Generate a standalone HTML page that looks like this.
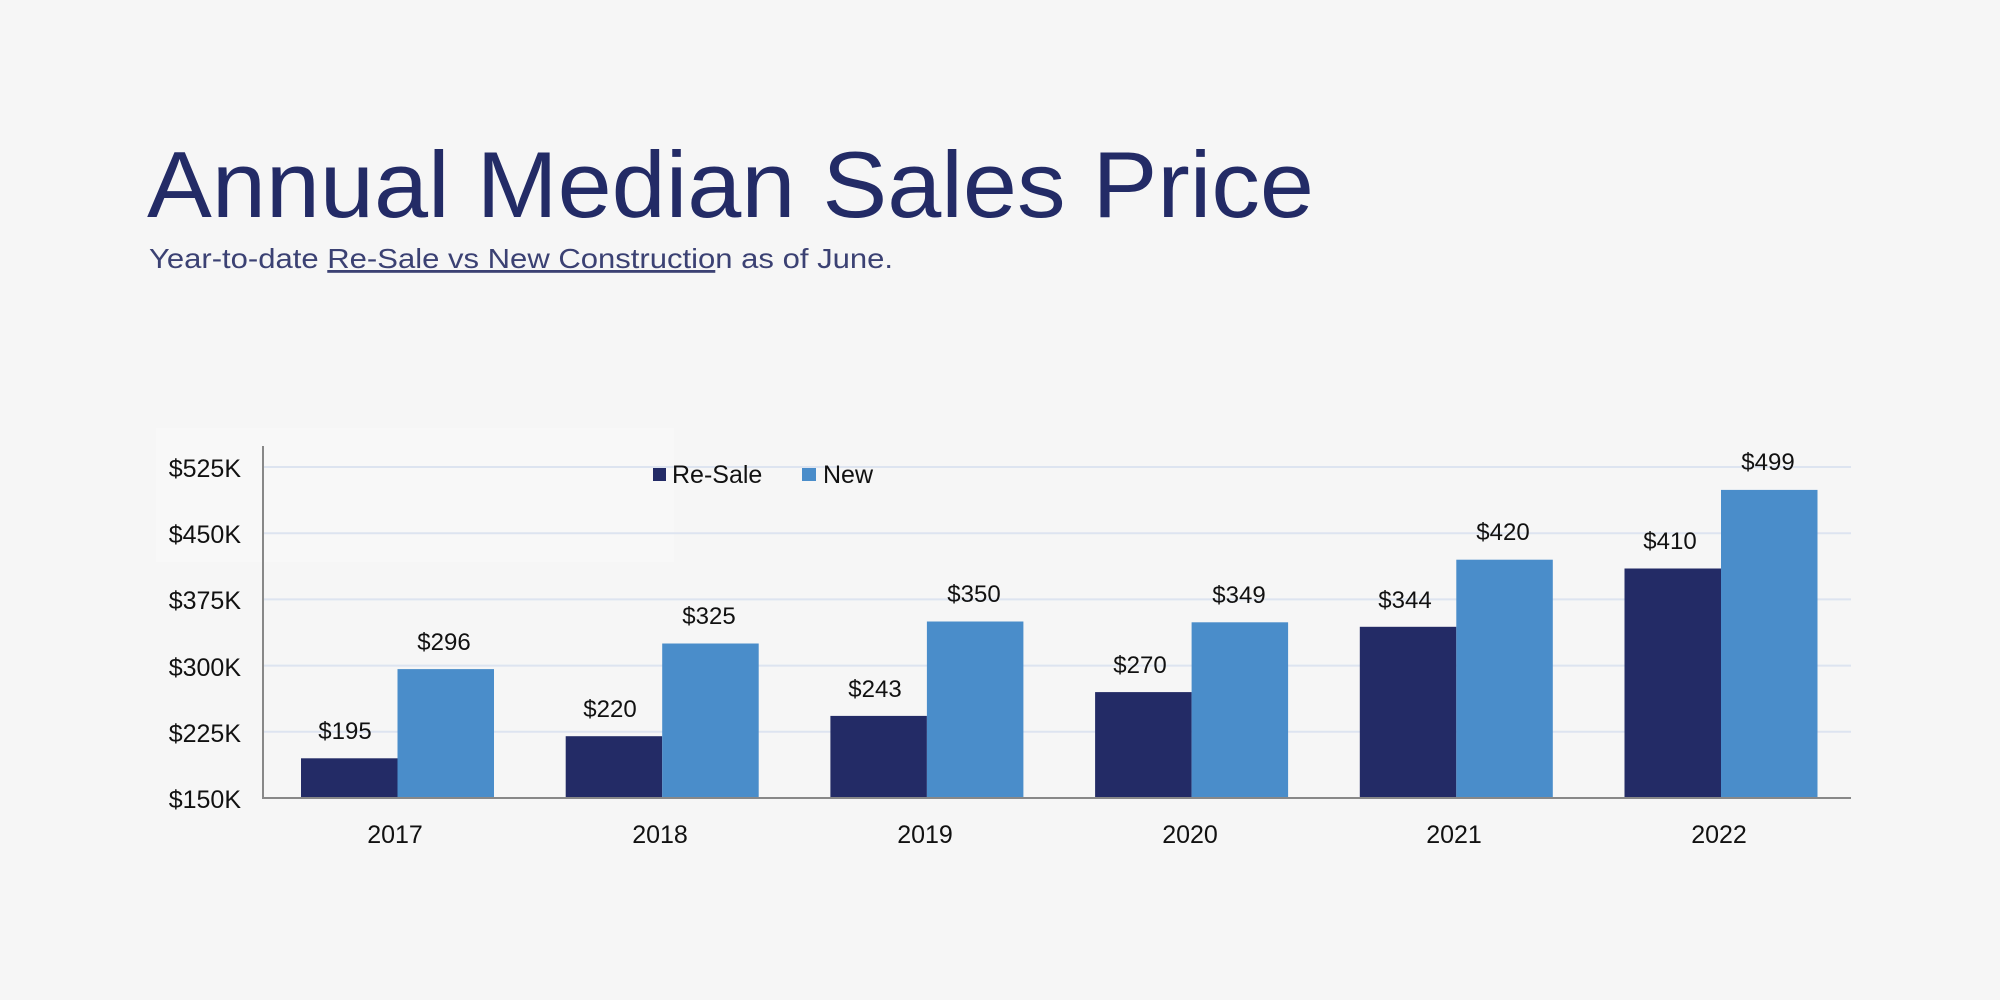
<!DOCTYPE html>
<html><head><meta charset="utf-8"><style>
html,body{margin:0;padding:0;background:#f6f6f6;}
svg{display:block;font-family:"Liberation Sans",Arial,sans-serif;}
</style></head><body>
<svg width="2000" height="1000" viewBox="0 0 2000 1000" xmlns="http://www.w3.org/2000/svg">
<rect width="2000" height="1000" fill="#f6f6f6"/>
<rect x="156" y="428" width="518" height="134" fill="#f8f8f8"/>
<text x="147" y="217" font-size="94" fill="#232b66" textLength="1167" lengthAdjust="spacingAndGlyphs">Annual Median Sales Price</text>
<text x="149" y="268" font-size="28" fill="#3b4173" textLength="744" lengthAdjust="spacingAndGlyphs">Year-to-date <tspan text-decoration="underline">Re-Sale vs New Constructio</tspan>n as of June.</text>
<g stroke="#dde4f0" stroke-width="2">
<line x1="263" y1="467" x2="1851" y2="467"/>
<line x1="263" y1="533.2" x2="1851" y2="533.2"/>
<line x1="263" y1="599.4" x2="1851" y2="599.4"/>
<line x1="263" y1="665.6" x2="1851" y2="665.6"/>
<line x1="263" y1="731.8" x2="1851" y2="731.8"/>
</g>
<g font-size="25" fill="#111" text-anchor="end">
<text x="241" y="477">$525K</text>
<text x="241" y="543">$450K</text>
<text x="241" y="609">$375K</text>
<text x="241" y="676">$300K</text>
<text x="241" y="742">$225K</text>
<text x="241" y="808">$150K</text>
</g>
<g fill="#232b66">
<rect x="301" y="758.3" width="96.5" height="39.7"/>
<rect x="565.7" y="736.2" width="96.5" height="61.8"/>
<rect x="830.4" y="715.9" width="96.5" height="82.1"/>
<rect x="1095.1" y="692.1" width="96.5" height="105.9"/>
<rect x="1359.8" y="626.8" width="96.5" height="171.2"/>
<rect x="1624.5" y="568.5" width="96.5" height="229.5"/>
</g>
<g fill="#4a8dca">
<rect x="397.5" y="669.1" width="96.5" height="128.9"/>
<rect x="662.2" y="643.5" width="96.5" height="154.5"/>
<rect x="926.9" y="621.5" width="96.5" height="176.5"/>
<rect x="1191.6" y="622.3" width="96.5" height="175.7"/>
<rect x="1456.3" y="559.7" width="96.5" height="238.3"/>
<rect x="1721" y="489.9" width="96.5" height="308.1"/>
</g>
<line x1="263" y1="446" x2="263" y2="798" stroke="#888" stroke-width="2"/>
<line x1="262" y1="798" x2="1851" y2="798" stroke="#888" stroke-width="2"/>
<g font-size="24" fill="#111" text-anchor="middle">
<text x="345" y="739">$195</text>
<text x="444" y="650">$296</text>
<text x="610" y="717">$220</text>
<text x="709" y="624">$325</text>
<text x="875" y="697">$243</text>
<text x="974" y="602">$350</text>
<text x="1140" y="673">$270</text>
<text x="1239" y="603">$349</text>
<text x="1405" y="608">$344</text>
<text x="1503" y="540">$420</text>
<text x="1670" y="549">$410</text>
<text x="1768" y="470">$499</text>
</g>
<g font-size="25" fill="#111" text-anchor="middle">
<text x="395" y="843">2017</text>
<text x="660" y="843">2018</text>
<text x="925" y="843">2019</text>
<text x="1190" y="843">2020</text>
<text x="1454" y="843">2021</text>
<text x="1719" y="843">2022</text>
</g>
<rect x="653" y="468" width="13" height="13" fill="#232b66"/>
<text x="672" y="483" font-size="25" fill="#111">Re-Sale</text>
<rect x="802" y="468" width="14" height="13" fill="#4a8dca"/>
<text x="823" y="483" font-size="25" fill="#111">New</text>
</svg>
</body></html>
